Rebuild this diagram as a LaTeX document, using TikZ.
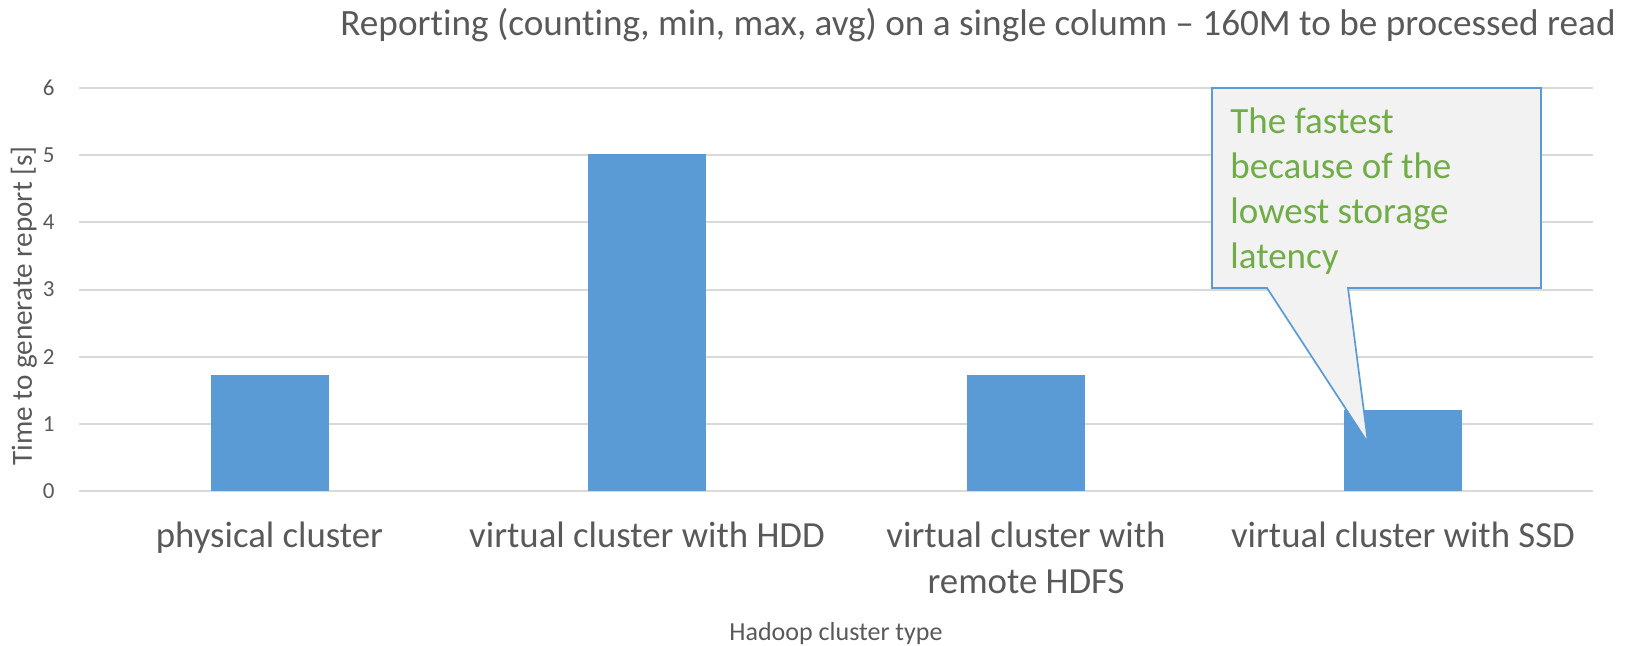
\documentclass[tikz,border=0pt]{standalone}
\usepackage{fontspec}
\setmainfont{Carlito}[Ligatures=NoCommon]
\usepackage{xcolor}
\usetikzlibrary{positioning}

\definecolor{txtgray}{HTML}{595959}
\definecolor{gridgray}{HTML}{D9D9D9}
\definecolor{barblue}{HTML}{5B9BD5}
\definecolor{notegreen}{HTML}{70AD47}
\definecolor{notefill}{HTML}{F2F2F2}

\begin{document}
\begin{tikzpicture}[
  x=0.5pt, y=-0.5pt,
  every node/.style={inner sep=0pt, text=txtgray},
  grid/.style={draw=gridgray, line width=1pt},
  bar/.style={fill=barblue},
  tick/.style={anchor=east, font=\fontsize{11.5}{14}\selectfont},
  cat/.style={anchor=base, align=center, font=\fontsize{18.4}{23}\selectfont},
  note/.style={draw=barblue, line width=0.85pt, fill=notefill, line join=miter}
]
\useasboundingbox (0,0) rectangle (1637,645);

% title
\node[anchor=base, font=\fontsize{18.6}{22}\selectfont] (title) at (978,35)
  {Reporting (counting, min, max, avg) on a single column -- 160M to be processed read};

% grid and ticks
\foreach \v in {0,...,6} {
  \draw[grid] (79,{491-67.17*\v}) -- (1593,{491-67.17*\v});
  \node[tick] (t\v) at (55,{491-67.17*\v}) {\v};
}

% axis titles
\node[rotate=90, anchor=base, font=\fontsize{14.6}{17}\selectfont] (ylab) at (32,306)
  {Time to generate report [s]};
\node[anchor=base, font=\fontsize{13}{16}\selectfont] (xlab) at (836,640)
  {Hadoop cluster type};

% bars
\foreach \n/\cx/\top in {1/269.5/375, 2/647/154, 3/1026/375, 4/1403/410} {
  \fill[bar] (\cx-59,491) rectangle (\cx+59,\top);
}

% category labels (base = last line)
\node[cat] (c1) at (269.5,547) {physical cluster};
\node[cat] (c2) at (647,547) {virtual cluster with HDD};
\node[cat] (c3) at (1026,593) {virtual cluster with\\remote HDFS};
\node[cat] (c4) at (1403,547) {virtual cluster with SSD};

% callout
\draw[note] (1212,88) -- (1541,88) -- (1541,288) -- (1348,288) -- (1368,443)
  -- (1267,288) -- (1212,288) -- cycle;
\node[anchor=base west, align=left, text=notegreen,
  font=\fontsize{18.5}{22.5}\selectfont] (notetext) at (1230,268)
  {The fastest\\because of the\\lowest storage\\latency};

\end{tikzpicture}
\end{document}
